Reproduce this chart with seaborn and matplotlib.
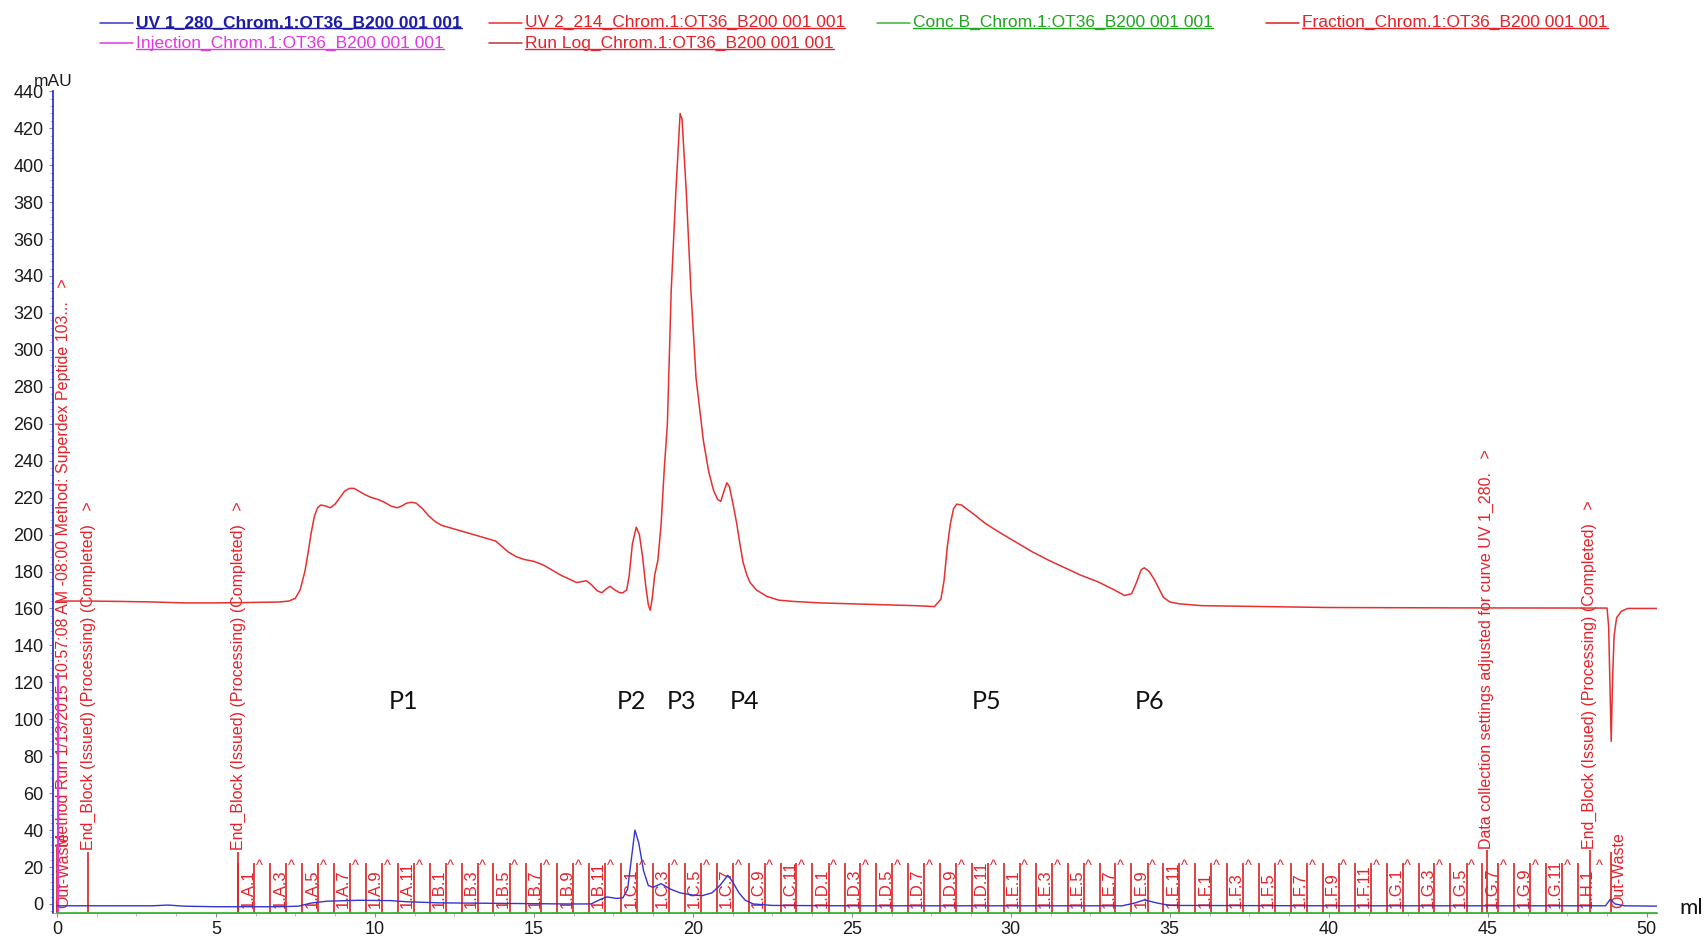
import matplotlib
matplotlib.use("Agg")
import matplotlib.pyplot as plt
import seaborn as sns
from matplotlib.lines import Line2D
from matplotlib.ticker import MultipleLocator
from matplotlib import font_manager

# ---------------- chromatogram traces ----------------
uv2_ml = [0.0, 1.0, 2.0, 3.0, 4.0, 5.0, 6.0, 7.0, 7.3, 7.5, 7.65, 7.8, 7.9, 8.0, 8.1, 8.2,
          8.3, 8.45, 8.6, 8.75, 8.9, 9.05, 9.2, 9.35, 9.5, 9.7, 9.9, 10.1, 10.3, 10.5, 10.7,
          10.85, 11.0, 11.15, 11.3, 11.5, 11.7, 11.9, 12.1, 12.4, 12.7, 13.0, 13.3, 13.6, 13.8,
          14.0, 14.2, 14.45, 14.7, 15.0, 15.3, 15.6, 15.85, 16.1, 16.35, 16.5, 16.65, 16.8,
          17.0, 17.14, 17.27, 17.4, 17.55, 17.7, 17.8, 17.92, 18.0, 18.1, 18.22, 18.32, 18.42,
          18.52, 18.6, 18.66, 18.72, 18.8, 18.9, 19.0, 19.1, 19.2, 19.32, 19.47, 19.6, 19.66,
          19.79, 19.94, 20.1, 20.33, 20.5, 20.65, 20.78, 20.88, 20.97, 21.07, 21.15, 21.27,
          21.38, 21.48, 21.58, 21.7, 21.8, 22.0, 22.33, 22.7, 23.16, 24.0, 25.0, 26.0, 27.0,
          27.6, 27.8, 27.9, 28.0, 28.1, 28.2, 28.3, 28.45, 28.6, 28.8, 29.2, 29.66, 30.2,
          30.67, 31.2, 31.7, 32.2, 32.73, 33.2, 33.58, 33.8, 33.95, 34.1, 34.2, 34.35, 34.5,
          34.65, 34.8, 35.0, 35.3, 36.0, 38.0, 40.0, 44.0, 48.0, 48.75, 48.8, 48.85, 48.88,
          48.92, 48.97, 49.05, 49.2, 49.4, 50.32]
uv2_mau = [164.0, 164.0, 163.8, 163.5, 163.0, 163.0, 163.2, 163.5, 164.0, 165.5, 170.0, 180.0,
           190.0, 201.0, 210.0, 214.5, 216.0, 215.5, 214.5, 216.5, 220.0, 223.5, 225.0, 225.0,
           223.5, 221.5, 220.0, 219.0, 217.5, 215.5, 214.5, 215.5, 217.0, 217.5, 217.0, 214.0,
           210.0, 207.0, 205.0, 203.5, 202.0, 200.5, 199.0, 197.5, 196.5, 193.5, 190.5, 188.0,
           186.5, 185.5, 183.5, 180.5, 178.0, 176.0, 174.0, 174.5, 175.0, 173.0, 169.5, 168.5,
           170.5, 172.0, 170.0, 168.5, 168.5, 170.0, 178.0, 195.0, 204.0, 200.0, 188.0, 172.0,
           162.0, 159.0, 165.0, 178.0, 186.0, 205.0, 235.0, 260.0, 332.0, 387.0, 428.0, 425.0,
           387.0, 332.0, 285.0, 251.0, 234.0, 224.0, 219.0, 218.0, 223.0, 228.0, 226.0, 216.0,
           206.0, 195.0, 185.0, 178.0, 174.0, 170.0, 166.5, 164.5, 163.8, 163.0, 162.5, 162.0,
           161.5, 161.0, 165.0, 175.0, 193.0, 206.0, 214.0, 216.5, 216.0, 214.0, 211.5, 206.0,
           201.0, 195.5, 190.7, 186.0, 182.0, 178.0, 174.5, 170.5, 167.0, 168.0, 174.0, 181.0,
           182.0, 180.0, 176.0, 171.0, 166.0, 163.5, 162.5, 161.5, 161.0, 160.5, 160.3, 160.2,
           160.2, 150.0, 110.0, 88.0, 120.0, 145.0, 155.0, 158.5, 160.0, 160.0]

uv1_ml = [0.0, 3.0, 3.5, 4.0, 5.0, 7.0, 7.6, 8.0, 8.5, 9.5, 10.5, 11.0, 12.0, 14.0, 16.0, 16.8,
          17.1, 17.3, 17.6, 17.8, 17.95, 18.05, 18.18, 18.3, 18.45, 18.6, 18.75, 19.0, 19.3,
          19.6, 20.0, 20.3, 20.6, 20.85, 21.1, 21.25, 21.45, 21.65, 21.9, 22.5, 25.0, 33.5,
          33.9, 34.2, 34.6, 35.0, 40.0, 48.7, 48.85, 49.0, 49.3, 50.32]
uv1_mau = [-1.0, -1.0, -0.6, -1.2, -1.5, -1.5, -1.2, 0.5, 1.5, 2.0, 1.8, 1.2, 0.6, 0.3, 0.0, 0.0,
           2.5, 3.8, 3.0, 3.3, 8.0, 22.0, 40.0, 33.0, 18.0, 10.0, 9.0, 11.0, 8.0, 6.0, 4.8, 4.5,
           6.0, 10.0, 15.5, 12.0, 6.0, 2.0, 0.0, -0.8, -1.0, -1.0, 0.5, 2.2, 0.5, -0.8, -1.0,
           -1.0, 2.5, 0.0, -1.0, -1.2]

concb_ml = [0.0, 50.32]
concb_pct = [0.0, 0.0]

injection_ml = [0.03]
injection_top = [125.0]

# ---------------- run log events ----------------
runlog_ml = [0.0, 0.0, 0.99, 5.71, 44.97, 48.2, 48.86]
runlog_text = ["Method Run 1/13/2015 10:57:08 AM -08:00 Method: Superdex Peptide 103...",
               "Out-Waste",
               "End_Block (Issued) (Processing) (Completed)",
               "End_Block (Issued) (Processing) (Completed)",
               "Data collection settings adjusted for curve UV 1_280.",
               "End_Block (Issued) (Processing) (Completed)",
               "Out-Waste"]
runlog_arrow = [True, False, True, True, True, True, False]

# ---------------- fractions ----------------
frac_ml = [5.71, 6.21, 6.71, 7.21, 7.72, 8.22, 8.72, 9.22, 9.72, 10.22, 10.73, 11.23,
           11.73, 12.23, 12.73, 13.23, 13.73, 14.24, 14.74, 15.24, 15.74, 16.24, 16.74, 17.24,
           17.75, 18.25, 18.75, 19.25, 19.75, 20.25, 20.76, 21.26, 21.76, 22.26, 22.76, 23.26,
           23.76, 24.27, 24.77, 25.27, 25.77, 26.27, 26.77, 27.27, 27.78, 28.28, 28.78, 29.28,
           29.78, 30.28, 30.79, 31.29, 31.79, 32.29, 32.79, 33.29, 33.79, 34.30, 34.80, 35.30,
           35.80, 36.30, 36.80, 37.30, 37.81, 38.31, 38.81, 39.31, 39.81, 40.31, 40.82, 41.32,
           41.82, 42.32, 42.82, 43.32, 43.82, 44.33, 44.83, 45.33, 45.83, 46.33, 46.83, 47.33,
           47.84]
frac_names = ["1.A.1", "1.A.2", "1.A.3", "1.A.4", "1.A.5", "1.A.6", "1.A.7", "1.A.8", "1.A.9", "1.A.10", "1.A.11", "1.A.12",
              "1.B.1", "1.B.2", "1.B.3", "1.B.4", "1.B.5", "1.B.6", "1.B.7", "1.B.8", "1.B.9", "1.B.10", "1.B.11", "1.B.12",
              "1.C.1", "1.C.2", "1.C.3", "1.C.4", "1.C.5", "1.C.6", "1.C.7", "1.C.8", "1.C.9", "1.C.10", "1.C.11", "1.C.12",
              "1.D.1", "1.D.2", "1.D.3", "1.D.4", "1.D.5", "1.D.6", "1.D.7", "1.D.8", "1.D.9", "1.D.10", "1.D.11", "1.D.12",
              "1.E.1", "1.E.2", "1.E.3", "1.E.4", "1.E.5", "1.E.6", "1.E.7", "1.E.8", "1.E.9", "1.E.10", "1.E.11", "1.E.12",
              "1.F.1", "1.F.2", "1.F.3", "1.F.4", "1.F.5", "1.F.6", "1.F.7", "1.F.8", "1.F.9", "1.F.10", "1.F.11", "1.F.12",
              "1.G.1", "1.G.2", "1.G.3", "1.G.4", "1.G.5", "1.G.6", "1.G.7", "1.G.8", "1.G.9", "1.G.10", "1.G.11", "1.G.12",
              "1.H.1"]

# ---------------- peak annotations ----------------
peak_names = ["P1", "P2", "P3", "P4", "P5", "P6"]
peak_ml = [10.9, 18.07, 19.64, 21.63, 29.25, 34.37]

# ---------------- legend ----------------
legend_labels = ["UV 1_280_Chrom.1:OT36_B200 001 001", "UV 2_214_Chrom.1:OT36_B200 001 001",
                 "Conc B_Chrom.1:OT36_B200 001 001", "Fraction_Chrom.1:OT36_B200 001 001",
                 "Injection_Chrom.1:OT36_B200 001 001", "Run Log_Chrom.1:OT36_B200 001 001"]

# ---------------- styling ----------------
C_UV1 = "#3434d0"
C_UV1_TXT = "#1c1ca8"
C_UV2 = "#e5302f"
C_CONC = "#3cb43c"
C_CONC_TXT = "#22a622"
C_FRAC = "#d82222"
C_INJ = "#e038e0"
C_LOG = "#b83434"
C_TXT_RED = "#e4222a"

sns.set_theme(style="white")
plt.rcParams["font.family"] = ["Liberation Sans", "DejaVu Sans"]


def font_available(name):
    try:
        font_manager.findfont(font_manager.FontProperties(family=name), fallback_to_default=False)
        return True
    except Exception:
        return False


if font_available("Liberation Sans Narrow"):
    LEG_FAMILY, LEG_SIZE = ["Liberation Sans Narrow", "Liberation Sans"], 15
else:
    LEG_FAMILY, LEG_SIZE = ["Liberation Sans", "DejaVu Sans"], 12.5

W, H = 1704, 938
fig = plt.figure(figsize=(W / 100, H / 100), dpi=100)
ax_left, ax_right, ax_top, ax_bottom = 52.7, 1657.0, 91.3, 913.0
ax = fig.add_axes([ax_left / W, 1 - ax_bottom / H, (ax_right - ax_left) / W, (ax_bottom - ax_top) / H])

YMIN, YMAX = -4.9, 440
XMIN, XMAX = -0.13, 50.32

# fraction marks
for i, (xm, name) in enumerate(zip(frac_ml, frac_names)):
    ax.vlines(xm, YMIN, 22, color=C_FRAC, lw=1.2, zorder=2)
    if i % 2 == 0:
        ax.text(xm + 0.3, -2.2, name, rotation=90, ha="center", va="bottom",
                fontsize=12, color=C_TXT_RED, zorder=2)
        ax.text(xm + 0.66, 16.5, "^", ha="center", va="bottom",
                fontsize=10.5, color=C_TXT_RED, zorder=2)

# run log events
log_layout = [  # (line top, text x shift, text start)
    (31, 0.22, 31),
    (-1, 0.22, -2.2),
    (28, 0.0, 29),
    (28, 0.0, 29),
    (29, 0.0, 30),
    (29, 0.0, 30),
    (28, 0.27, -2.2),
]
for xm, txt, arrow, (top, dx, start) in zip(runlog_ml, runlog_text, runlog_arrow, log_layout):
    ax.vlines(xm, YMIN, top, color=C_FRAC, lw=1.2, zorder=2)
    ax.text(xm + dx, start, txt + ("   >" if arrow else ""), rotation=90, ha="center",
            va="bottom", fontsize=11.5, color=C_TXT_RED, zorder=2)

# injection mark
ax.vlines(injection_ml, YMIN, injection_top, color=C_INJ, lw=1.5, zorder=3)

# traces
sns.lineplot(x=uv2_ml, y=uv2_mau, ax=ax, color=C_UV2, lw=1.1, estimator=None, zorder=4)
sns.lineplot(x=uv1_ml, y=uv1_mau, ax=ax, color=C_UV1, lw=1.0, estimator=None, zorder=4)

ax2 = ax.twinx()
sns.lineplot(x=concb_ml, y=concb_pct, ax=ax2, color=C_CONC, lw=1.3, estimator=None,
             zorder=5, clip_on=False)
ax2.set_ylim(0, 100)
ax2.set_axis_off()

ax.set_xlim(XMIN, XMAX)
ax.set_ylim(YMIN, YMAX)
ax2.set_xlim(XMIN, XMAX)

# peak labels
for name, xm in zip(peak_names, peak_ml):
    ax.text(xm, 109.4, name, ha="center", va="center", fontsize=18, family="Lato",
            color="#111111", zorder=6)

# axes styling
for side in ("top", "right"):
    ax.spines[side].set_visible(False)
ax.spines["left"].set_color(C_UV1)
ax.spines["left"].set_linewidth(1.3)
ax.spines["bottom"].set_color("#a0a0a0")
ax.spines["bottom"].set_linewidth(0.8)

ax.yaxis.set_major_locator(MultipleLocator(20))
ax.yaxis.set_minor_locator(MultipleLocator(4))
ax.xaxis.set_major_locator(MultipleLocator(5))
ax.xaxis.set_minor_locator(MultipleLocator(1.25))
ax.tick_params(axis="both", which="major", direction="out", length=3, width=0.8,
               color="#8a8a8a", labelsize=13, labelcolor="#1a1a1a")
ax.tick_params(axis="y", which="major", pad=3.5)
ax.tick_params(axis="x", which="major", pad=2.5)
ax.tick_params(axis="both", which="minor", direction="out", length=2, width=0.6, color="#b0b0b0")
ax.tick_params(left=True, bottom=True, which="both")
ax.set_xlabel("")
ax.set_ylabel("")
ax.grid(False)

ax.annotate("mAU", xy=(0, 1), xycoords="axes fraction", xytext=(0, 2), textcoords="offset points",
            ha="center", va="bottom", fontsize=12.5, color="#1a1a1a")
fig.text(1679 / W, 1 - 908 / H, "ml", ha="left", va="center", fontsize=16, family="Lato",
         color="#111111")

# legend block
leg_x = [100, 489, 877, 1266, 100, 489]
leg_row_y = [22.6, 43.3]
leg_row = [0, 0, 0, 0, 1, 1]
leg_line_colors = [C_UV1, C_UV2, C_CONC, C_FRAC, C_INJ, C_LOG]
leg_text_colors = [C_UV1_TXT, C_TXT_RED, C_CONC_TXT, C_TXT_RED, C_INJ, C_TXT_RED]
leg_bold = [True, False, False, False, False, False]

leg_texts = []
for lab, x0, r, lc, tc, b in zip(legend_labels, leg_x, leg_row, leg_line_colors, leg_text_colors, leg_bold):
    yf = 1 - leg_row_y[r] / H
    fig.add_artist(Line2D([x0 / W, (x0 + 33) / W], [yf, yf], color=lc, lw=1.1))
    t = fig.text((x0 + 36) / W, yf, lab, ha="left", va="center", fontsize=LEG_SIZE,
                 family=LEG_FAMILY, fontweight="bold" if b else "normal", color=tc)
    leg_texts.append((t, tc))

fig.canvas.draw()
renderer = fig.canvas.get_renderer()
inv = fig.transFigure.inverted()
for t, tc in leg_texts:
    bb = t.get_window_extent(renderer)
    (fx0, fy0), (fx1, fy1) = inv.transform([(bb.x0, bb.y0 + 0.12 * bb.height), (bb.x1, bb.y0)])
    fig.add_artist(Line2D([fx0, fx1], [fy0, fy0], color=tc, lw=1.0))

fig.savefig("out.png", dpi=100)
